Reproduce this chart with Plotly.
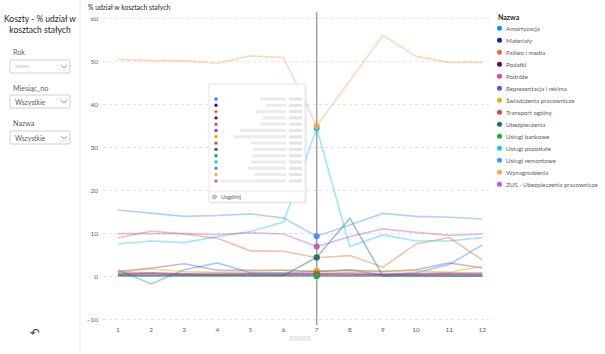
import plotly.graph_objects as go

months = list(range(1, 13))
names = ["Amortyzacja", "Materiały", "Paliwo i media", "Podatki", "Podróże",
         "Reprezentacja i reklma", "Świadczenia pracownicze", "Transport ogólny",
         "Ubezpieczenia", "Usługi bankowe", "Usługi pozostałe", "Usługi remontowe",
         "Wynagrodzenia", "ZUS - Ubezpieczenia pracownicze"]
colors = ["#118DFF", "#12239E", "#E66C37", "#6B007B", "#E044A7", "#744EC2", "#D9B300",
          "#D64550", "#197278", "#1AAB40", "#15C6F4", "#4092FF", "#FFA058", "#BE5DC9"]

amortyzacja = [1.6, -1.7, 1.6, 3.2, 0.9, 0.9, 1.2, 1.6, 0.3, 0.9, 2.8, 7.4]
materialy = [0.6, 0.8, 0.6, 0.5, 0.7, 0.6, 0.7, 0.6, 0.5, 0.6, 0.7, 0.6]
paliwo = [9.0, 10.6, 9.9, 8.9, 6.0, 5.9, 4.4, 4.9, 2.2, 7.6, 9.1, 3.9]
podatki = [0.3, 0.3, 0.4, 0.3, 0.3, 0.3, 0.3, 0.4, 0.3, 0.4, 0.3, 0.3]
podroze = [0.5, 0.8, 0.4, 0.5, 0.4, 0.3, 0.4, 0.2, 0.3, 0.4, 0.5, 0.4]
reprezentacja = [1.2, 2.0, 3.0, 1.5, 1.5, 1.5, 1.2, 1.5, 1.2, 1.6, 3.2, 2.0]
swiadczenia = [1.0, 1.8, 1.2, 1.0, 1.2, 1.5, 1.3, 1.4, 1.3, 1.4, 1.0, 2.4]
transport = [1.0, 0.8, 0.7, 0.8, 0.8, 0.8, 0.7, 0.9, 0.7, 0.8, 0.8, 0.9]
ubezpieczenia = [0.3, 0.3, 0.3, 0.3, 0.3, 0.3, 4.5, 13.6, 0.1, 0.2, 0.1, 0.1]
bankowe = [0.1, 0.1, 0.1, 0.1, 0.1, 0.1, 0.1, 0.1, 0.1, 0.1, 0.1, 0.1]
pozostale = [7.6, 8.3, 7.9, 9.3, 10.5, 12.7, 34.5, 7.0, 9.7, 8.3, 8.3, 9.1]
remontowe = [15.5, 14.7, 14.0, 14.2, 14.6, 13.6, 9.4, 12.0, 14.7, 14.0, 13.8, 13.4]
wynagrodzenia = [50.5, 50.2, 50.2, 49.6, 51.3, 50.9, 35.0, 45.5, 56.1, 51.2, 49.8, 49.8]
zus = [10.0, 10.0, 10.0, 9.8, 10.2, 9.9, 7.0, 9.3, 11.1, 10.3, 9.6, 9.9]

series = [amortyzacja, materialy, paliwo, podatki, podroze, reprezentacja, swiadczenia,
          transport, ubezpieczenia, bankowe, pozostale, remontowe, wynagrodzenia, zus]
hover_month = 7
ytick_vals = [-10, 0, 10, 20, 30, 40, 50, 60]

FONT = "Lato, Liberation Sans, sans-serif"
L, R, T, B = 103, 116, 12, 30
W, H = 605, 354
PW, PH = W - L - R, H - T - B


def px(x):
    return (x - L) / PW


def py(y):
    return (H - B - y) / PH


def rgba(hexc, a):
    h = hexc.lstrip("#")
    return "rgba(%d,%d,%d,%.2f)" % (int(h[0:2], 16), int(h[2:4], 16), int(h[4:6], 16), a)


fig = go.Figure()
for n, c, s in zip(names, colors, series):
    fig.add_trace(go.Scatter(x=months, y=s, mode="lines", name=n,
                             line=dict(color=rgba(c, 0.42), width=1.6),
                             showlegend=False, hoverinfo="skip"))
idx = months.index(hover_month)
fig.add_trace(go.Scatter(x=[hover_month] * len(series), y=[s[idx] for s in series],
                         mode="markers", marker=dict(color=colors, size=6),
                         showlegend=False, hoverinfo="skip"))

shapes = []
annotations = []

# hover vertical line
shapes.append(dict(type="line", xref="x", yref="paper", x0=hover_month, x1=hover_month,
                   y0=py(325), y1=py(12), line=dict(color="#A0A0A0", width=1.5), layer="below"))

# left panel separator
shapes.append(dict(type="line", xref="paper", yref="paper", x0=px(80), x1=px(80),
                   y0=py(0), y1=py(354), line=dict(color="#EAEAEA", width=1)))

# left panel title and slicers
annotations.append(dict(text="Koszty - % udział w<br>kosztach stałych", xref="paper", yref="paper",
                        x=px(40), y=py(25), xanchor="center", yanchor="middle", showarrow=False,
                        font=dict(family=FONT, size=8.5, color="#252423"), align="center"))
for label, ly, val in [("Rok", 53, None), ("Miesiąc_no", 88, "Wszystkie"), ("Nazwa", 124, "Wszystkie")]:
    annotations.append(dict(text=label, xref="paper", yref="paper", x=px(11), y=py(ly),
                            xanchor="left", yanchor="middle", showarrow=False,
                            font=dict(family=FONT, size=7.2, color="#605E5C")))
    by = ly + 7
    shapes.append(dict(type="rect", xref="paper", yref="paper", x0=px(10), x1=px(70),
                       y0=py(by), y1=py(by + 13), line=dict(color="#D2D0CE", width=1),
                       fillcolor="white"))
    shapes.append(dict(type="path", xref="paper", yref="paper",
                       path="M %f %f L %f %f L %f %f" % (px(61), py(by + 5.2), px(64), py(by + 7.8), px(67), py(by + 5.2)),
                       line=dict(color="#8A8886", width=0.8)))
    if val:
        annotations.append(dict(text=val, xref="paper", yref="paper", x=px(13), y=py(by + 6.5),
                                xanchor="left", yanchor="middle", showarrow=False,
                                font=dict(family=FONT, size=6.8, color="#605E5C")))
    else:
        shapes.append(dict(type="rect", xref="paper", yref="paper", x0=px(15), x1=px(29),
                           y0=py(by + 5), y1=py(by + 8), line=dict(width=0),
                           fillcolor="rgba(200,200,200,0.5)"))

# back arrow
annotations.append(dict(text="↶", xref="paper", yref="paper", x=px(35), y=py(333),
                        xanchor="center", yanchor="middle", showarrow=False,
                        font=dict(family="DejaVu Sans", size=12, color="#404040")))

# y axis title
annotations.append(dict(text="% udział w kosztach stałych", xref="paper", yref="paper",
                        x=px(86), y=py(7), xanchor="left", yanchor="middle", showarrow=False,
                        font=dict(family=FONT, size=6.8, color="#252423")))
# blurred x axis title
shapes.append(dict(type="rect", xref="paper", yref="paper", x0=px(289), x1=px(311),
                   y0=py(336), y1=py(341), line=dict(width=0), fillcolor="rgba(210,210,210,0.45)"))

# legend
annotations.append(dict(text="<b>Nazwa</b>", xref="paper", yref="paper", x=px(496), y=py(17),
                        xanchor="left", yanchor="middle", showarrow=False,
                        font=dict(family=FONT, size=7, color="#252423")))
for i, (n, c) in enumerate(zip(names, colors)):
    yy = 28.3 + i * 12
    shapes.append(dict(type="circle", xref="paper", yref="paper", x0=px(497), x1=px(502),
                       y0=py(yy - 2.5), y1=py(yy + 2.5), line=dict(width=0), fillcolor=c))
    annotations.append(dict(text=n, xref="paper", yref="paper", x=px(504), y=py(yy),
                            xanchor="left", yanchor="middle", showarrow=False,
                            font=dict(family=FONT, size=6.2, color="#605E5C")))

# tooltip
tx0, tx1, ty0, ty1 = 209, 305, 84, 202
shapes.append(dict(type="rect", xref="paper", yref="paper", x0=px(tx0 + 1), x1=px(tx1 + 2),
                   y0=py(ty0 + 1), y1=py(ty1 + 2), line=dict(width=0), fillcolor="rgba(0,0,0,0.06)"))
shapes.append(dict(type="rect", xref="paper", yref="paper", x0=px(tx0), x1=px(tx1),
                   y0=py(ty0), y1=py(ty1), line=dict(color="#E6E6E6", width=1), fillcolor="white"))
blur_left = [260, 266, 256, 263, 260, 240, 234, 251, 253, 252, 251, 248, 254, 220]
for i, c in enumerate(colors):
    yy = 99 + i * 6.3
    shapes.append(dict(type="circle", xref="paper", yref="paper", x0=px(214.3), x1=px(217.7),
                       y0=py(yy - 1.7), y1=py(yy + 1.7), line=dict(width=0), fillcolor=c))
    shapes.append(dict(type="rect", xref="paper", yref="paper", x0=px(blur_left[i]), x1=px(286),
                       y0=py(yy - 1.5), y1=py(yy + 1.5), line=dict(width=0),
                       fillcolor="rgba(210,210,210,0.45)"))
    shapes.append(dict(type="rect", xref="paper", yref="paper", x0=px(289), x1=px(302),
                       y0=py(yy - 1.5), y1=py(yy + 1.5), line=dict(width=0),
                       fillcolor="rgba(195,195,195,0.45)"))
shapes.append(dict(type="line", xref="paper", yref="paper", x0=px(tx0), x1=px(tx1),
                   y0=py(191), y1=py(191), line=dict(color="#E6E6E6", width=1)))
shapes.append(dict(type="circle", xref="paper", yref="paper", x0=px(212.5), x1=px(216.5),
                   y0=py(194.8), y1=py(198.8), line=dict(color="#A0A0A0", width=0.8), fillcolor="#D0D0D0"))
annotations.append(dict(text="Uogólnij", xref="paper", yref="paper", x=px(219), y=py(196.8),
                        xanchor="left", yanchor="middle", showarrow=False,
                        font=dict(family=FONT, size=5.5, color="#605E5C")))

fig.update_layout(
    width=W, height=H, margin=dict(l=L, r=R, t=T, b=B),
    paper_bgcolor="white", plot_bgcolor="white",
    font=dict(family=FONT, color="#605E5C"),
    shapes=shapes, annotations=annotations,
    xaxis=dict(range=[0.55, 12.2], tickvals=months, showgrid=False, zeroline=False,
               showline=False, ticks="", tickfont=dict(size=6.5, color="#605E5C")),
    yaxis=dict(range=[-11, 61.5], tickvals=ytick_vals, ticksuffix="%", showgrid=True,
               gridcolor="#E3E3E3", griddash="dot", gridwidth=1, zeroline=False,
               showline=False, ticks="", ticklabelstandoff=4,
               tickfont=dict(size=6.5, color="#605E5C")),
)

fig.write_html("out.html")
